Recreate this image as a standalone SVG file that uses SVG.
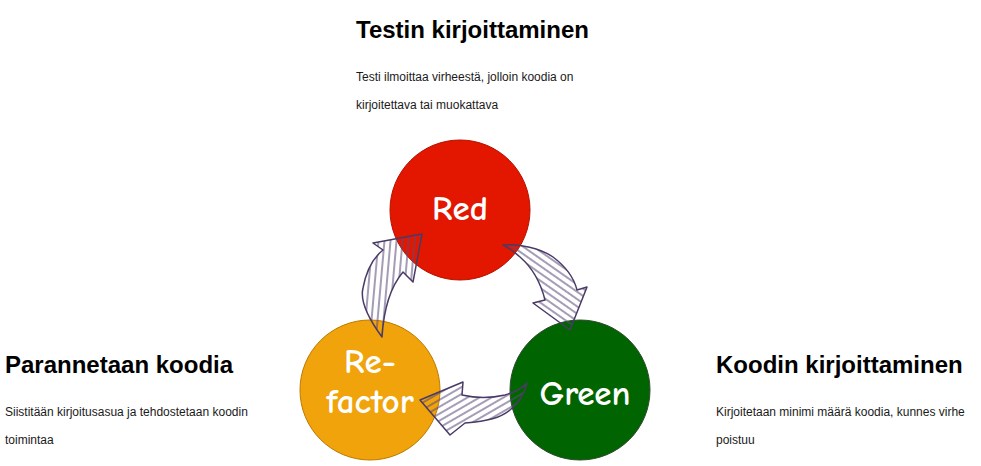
<svg xmlns="http://www.w3.org/2000/svg" width="981" height="466" viewBox="0 0 981 466">
<style>
.h{font-family:"Liberation Sans",Arial,sans-serif;font-weight:bold;font-size:24px;fill:#000}
.b{font-family:"Liberation Sans",Arial,sans-serif;font-size:12px;fill:#1a1a1a}
.c{font-family:"Comic Sans MS","Comic Neue","DejaVu Sans",sans-serif;font-size:35px;font-weight:bold;fill:#fff;text-anchor:middle}
.arr{stroke:#4a3a66;stroke-width:1.5;stroke-linejoin:round}
</style>
<defs>
<pattern id="h1" width="6" height="6" patternUnits="userSpaceOnUse" patternTransform="rotate(5)"><line x1="2" y1="0" x2="2" y2="6" stroke="#5a4a78" stroke-width="1.1"/></pattern>
<pattern id="h2" width="6" height="6" patternUnits="userSpaceOnUse" patternTransform="rotate(-55)"><line x1="2" y1="0" x2="2" y2="6" stroke="#5a4a78" stroke-width="1.1"/></pattern>
<pattern id="h3" width="6" height="6" patternUnits="userSpaceOnUse" patternTransform="rotate(60)"><line x1="2" y1="0" x2="2" y2="6" stroke="#5a4a78" stroke-width="1.1"/></pattern>
</defs>
<g id="text-red">
<text class="h" x="356" y="38">Testin kirjoittaminen</text>
<text class="b" x="356" y="81">Testi ilmoittaa virheestä, jolloin koodia on</text>
<text class="b" x="356" y="109">kirjoitettava tai muokattava</text>
</g>
<g id="text-refactor">
<text class="h" x="5" y="373">Parannetaan koodia</text>
<text class="b" x="5" y="416">Siistitään kirjoitusasua ja tehdostetaan koodin</text>
<text class="b" x="5" y="444">toimintaa</text>
</g>
<g id="text-green">
<text class="h" x="716" y="373">Koodin kirjoittaminen</text>
<text class="b" x="716" y="416">Kirjoitetaan minimi määrä koodia, kunnes virhe</text>
<text class="b" x="716" y="444">poistuu</text>
</g>
<g id="node-red">
<circle cx="460" cy="210" r="70" fill="#e31700" stroke="#b31200" stroke-width="1"/>
<text class="c" x="460" y="220">Red</text>
</g>
<g id="node-green">
<circle cx="580" cy="390" r="70" fill="#006400" stroke="#2e4a2e" stroke-width="1"/>
<text class="c" x="585" y="405">Green</text>
</g>
<g id="node-refactor">
<circle cx="370" cy="390" r="70" fill="#f0a30a" stroke="#bd7a00" stroke-width="1"/>
<text class="c" x="370" y="373">Re-</text>
<text class="c" x="370" y="413">factor</text>
</g>
<g id="connectors">
<path class="arr" fill="url(#h1)" d="M382,337 C368,318 360,300 363,288 C366,272 373,258 383,250 L373,243 L422,234 L413,282 L403,272 C392,285 384,305 382,337 Z"/>
<path class="arr" fill="url(#h2)" d="M503,245 C520,244 540,248 553,257 C565,266 574,278 577,290 L587,287 L570,330 L533,303 L545,300 C542,288 535,270 520,257 C513,251 508,247 503,245 Z"/>
<path class="arr" fill="url(#h3)" d="M420,400 L463,382 L462,395 C475,398 492,398 505,395 C515,392 522,388 527,383 C524,395 518,404 510,410 C500,418 488,421 465,423 L450,435 Z"/>
</g>
</svg>
